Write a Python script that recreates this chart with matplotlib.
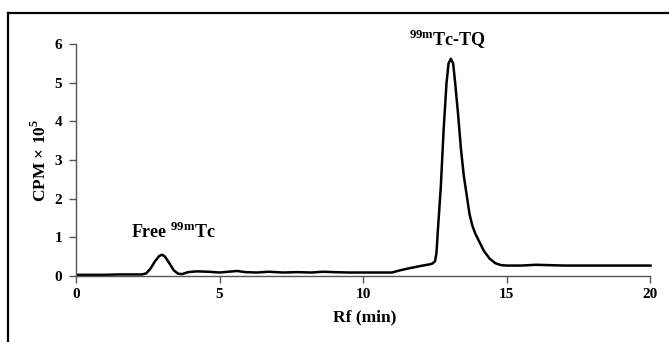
import matplotlib
matplotlib.use("Agg")
import matplotlib.pyplot as plt
from matplotlib.lines import Line2D

plt.rcParams['font.family'] = ['Liberation Serif', 'DejaVu Serif']
plt.rcParams['font.weight'] = 'bold'
plt.rcParams['mathtext.fontset'] = 'custom'
plt.rcParams['mathtext.rm'] = 'Liberation Serif:bold'
plt.rcParams['mathtext.bf'] = 'Liberation Serif:bold'

# radio-HPLC trace
rf = [0, 1.0, 1.5, 2.0, 2.3, 2.45, 2.6, 2.75, 2.9, 3.0, 3.1, 3.25, 3.4, 3.55,
      3.7, 3.9, 4.2, 4.6, 5.0, 5.3, 5.6, 5.9, 6.3, 6.7, 7.2, 7.7, 8.2, 8.6,
      9.0, 9.5, 10.0, 10.5, 11.0, 11.3, 11.6, 12.0, 12.3, 12.4, 12.5, 12.55,
      12.6, 12.7, 12.8, 12.9, 12.97, 13.05, 13.13, 13.2, 13.3, 13.4, 13.5,
      13.6, 13.7, 13.8, 13.9, 14.0, 14.2, 14.4, 14.6, 14.8, 15.0, 15.5, 16.0,
      16.5, 17.0, 18.0, 19.0, 20.0]
cpm = [0.03, 0.03, 0.04, 0.04, 0.04, 0.07, 0.2, 0.38, 0.52, 0.55, 0.5, 0.33,
       0.15, 0.06, 0.05, 0.1, 0.12, 0.11, 0.09, 0.11, 0.13, 0.1, 0.09, 0.11,
       0.09, 0.1, 0.09, 0.11, 0.1, 0.09, 0.09, 0.09, 0.09, 0.15, 0.2, 0.26,
       0.3, 0.32, 0.38, 0.6, 1.2, 2.3, 3.8, 5.0, 5.5, 5.62, 5.5, 5.0, 4.2,
       3.3, 2.6, 2.1, 1.6, 1.3, 1.1, 0.95, 0.65, 0.45, 0.33, 0.28, 0.27, 0.27,
       0.29, 0.28, 0.27, 0.27, 0.27, 0.27]

x_ticks = [0, 5, 10, 15, 20]
y_ticks = [0, 1, 2, 3, 4, 5, 6]

fig = plt.figure(figsize=(6.69, 3.42), dpi=100)
ax = fig.add_axes([0.1136, 0.193, 0.863, 0.678])

ax.plot(rf, cpm, color='black', lw=1.8, solid_joinstyle='round')
ax.set_xlim(0, 20.1)
ax.set_ylim(0, 6)
ax.set_xticks(x_ticks)
ax.set_yticks(y_ticks)
for s in ['top', 'right']:
    ax.spines[s].set_visible(False)
for s in ['left', 'bottom']:
    ax.spines[s].set_color('#555555')
    ax.spines[s].set_linewidth(1.0)
ax.spines['bottom'].set_bounds(0, 20)
ax.tick_params(direction='out', length=5, width=1, color='#555555',
               labelsize=11)
ax.tick_params(axis='y', pad=5)
ax.tick_params(axis='x', pad=4)

ax.set_xlabel('Rf (min)', fontsize=12.5, fontweight='bold', labelpad=6)
ax.set_ylabel(r'CPM $\times$ 10$^{5}$', fontsize=12.5, fontweight='bold', labelpad=3)

ax.text(3.4, 0.98, r'Free $^{99\mathrm{m}}$Tc', ha='center', va='baseline',
        fontsize=13, fontweight='bold')
ax.text(12.93, 5.96, r'$^{99\mathrm{m}}$Tc-TQ', ha='center', va='baseline',
        fontsize=13, fontweight='bold', clip_on=False)

# outer frame lines (top and left)
fig.add_artist(Line2D([8 / 669, 1.0], [1 - 13 / 342, 1 - 13 / 342],
                      color='black', lw=1.6, transform=fig.transFigure))
fig.add_artist(Line2D([8 / 669, 8 / 669], [0, 1 - 13 / 342],
                      color='black', lw=1.6, transform=fig.transFigure))

fig.savefig('out.png', dpi=100)
